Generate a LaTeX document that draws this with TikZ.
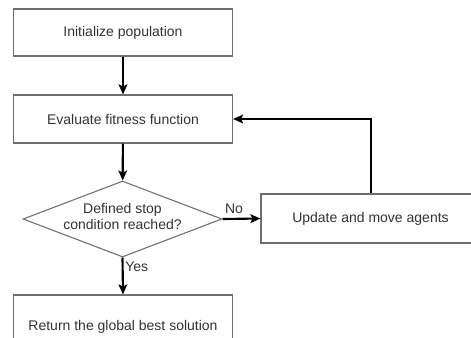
\documentclass[tikz,border=0pt]{standalone}
\usepackage{fontspec}
\setmainfont{Liberation Sans}
\usetikzlibrary{shapes.geometric,arrows.meta}
\definecolor{boxline}{HTML}{6E6E6E}
\definecolor{txt}{HTML}{333333}
\begin{document}
\begin{tikzpicture}[x=0.75pt,y=-0.75pt,
  box/.style={draw=boxline,line width=0.8pt,fill=white,minimum width=164.25pt,inner sep=0pt,text=txt,font=\fontsize{10.5}{12}\selectfont},
  dia/.style={draw=boxline,line width=0.8pt,shape=diamond,minimum width=149.25pt,minimum height=57pt,inner sep=0pt},
  flow/.style={line width=1.6pt,-{Stealth[length=7.5pt,width=6.5pt,inset=1.5pt]}},
  lbl/.style={text=txt,font=\fontsize{10.5}{12}\selectfont,inner sep=0pt}]
\useasboundingbox (0,0) rectangle (471,337);
\clip (0,0) rectangle (471,337);
\node[box,minimum height=35.25pt] (init) at (123,32.5) {Initialize population};
\node[box,minimum height=36pt] (eval) at (123,119) {Evaluate fitness function};
\node[dia] (cond) at (122.5,219) {};
\node[lbl,align=center] (condt) at (122.5,216) {Defined stop\\condition reached?};
\node[box,minimum height=36.75pt] (upd) at (370.5,218.5) {Update and move agents};
\node[box,minimum height=48pt] (ret) at (123,327) {Return the global best solution};
\coordinate (corner) at (371,119);
\draw[flow] (init) -- (eval);
\draw[flow] (eval) -- (cond);
\draw[flow] (cond.south) -- (ret.north);
\draw[flow] (cond.east) -- (upd.west);
\draw[flow] (upd.north -| corner) -- (corner) -- (eval.east);
\node[lbl] (no) at (234,209) {No};
\node[lbl,anchor=west] (yes) at (125,267) {Yes};
\end{tikzpicture}
\end{document}
